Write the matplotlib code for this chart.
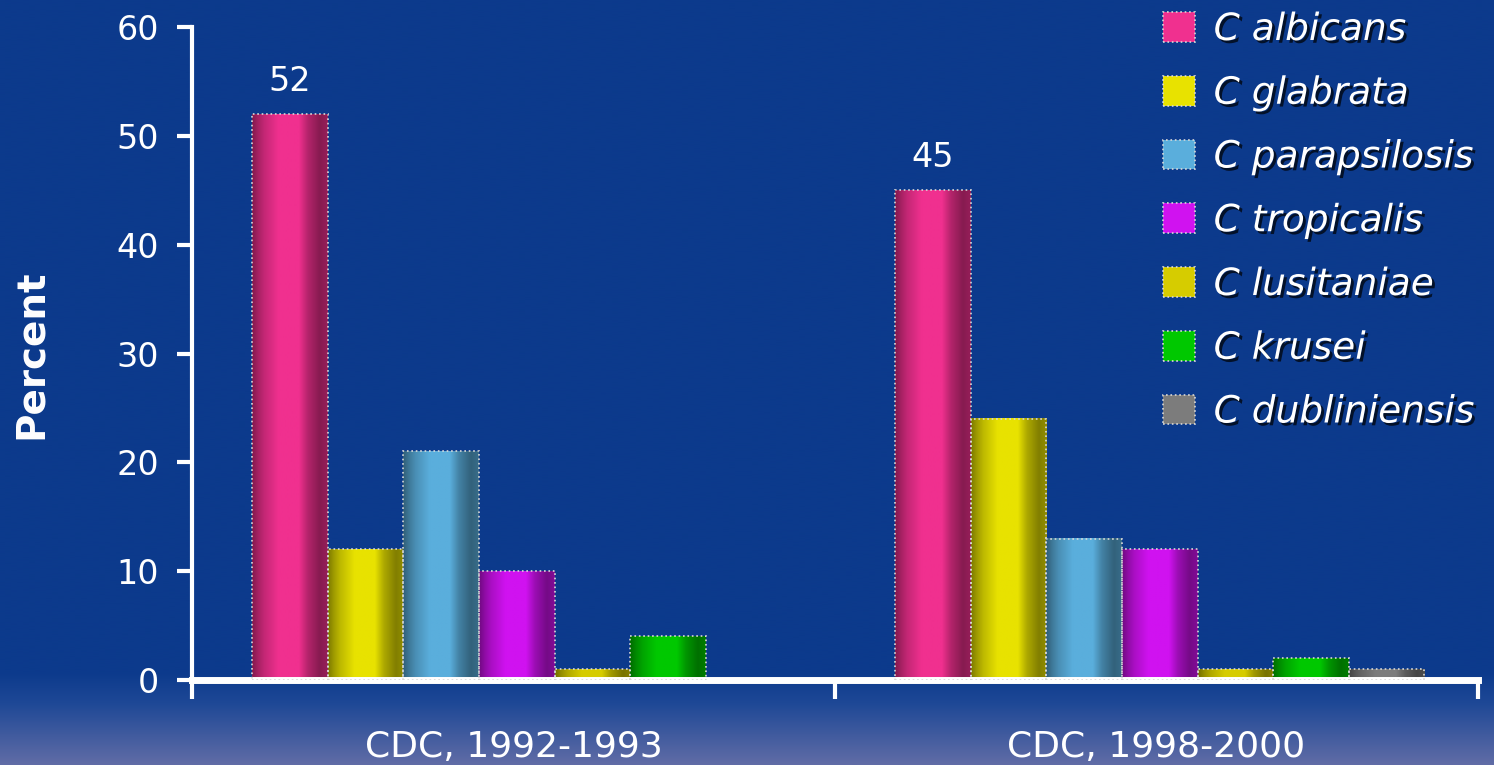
import numpy as np
import matplotlib.pyplot as plt
import matplotlib.patheffects as pe
from matplotlib.patches import Patch
from matplotlib.colors import to_rgb

# survey periods and species
studies = ['CDC, 1992-1993', 'CDC, 1998-2000']
species = ['C albicans', 'C glabrata', 'C parapsilosis', 'C tropicalis',
           'C lusitaniae', 'C krusei', 'C dubliniensis']

# percent of isolates per species, one list per period
percent_1992 = [52, 12, 21, 10, 1, 4, 0]
percent_1998 = [45, 24, 13, 12, 1, 2, 1]

colors = ['#f0308f', '#e8e200', '#5aaedc', '#d012f0', '#d6cc00', '#00c800', '#7c7c7c']

fig = plt.figure(figsize=(14.94, 7.65), dpi=100)

# background: flat blue that fades to a greyish lilac at the bottom
bg = fig.add_axes([0, 0, 1, 1], zorder=-10)
bg.axis('off')
rows = np.linspace(0, 1, 400)
stops = [0.0, 0.88, 0.92, 1.0]
top_c = np.array([
    [0x0c, 0x3a, 0x8c],
    [0x0c, 0x3a, 0x8c],
    [0x1e, 0x48, 0x96],
    [0x60, 0x6c, 0xa6],
]) / 255
grad = np.stack([np.interp(rows, stops, top_c[:, k]) for k in range(3)], axis=-1)
bg.imshow(grad[:, None, :], aspect='auto', extent=[0, 1, 0, 1], interpolation='bilinear')
bg.set_xlim(0, 1)
bg.set_ylim(0, 1)

ax = fig.add_axes([0.1285, 0.1111, 0.8608, 0.8536])
ax.set_facecolor('none')

x = np.arange(len(studies))
width = 0.1176
shift = 0.005
shade_pos = [0, 0.08, 0.16, 0.35, 0.62, 0.74, 0.9, 1]
shade_val = [0.55, 0.7, 0.82, 1.0, 1.0, 0.75, 0.56, 0.62]
prof = np.interp(np.linspace(0, 1, 64), shade_pos, shade_val)

for i, sp in enumerate(species):
    vals = [percent_1992[i], percent_1998[i]]
    bars = ax.bar(x + (i - 3) * width + shift, vals, width, facecolor='none',
                  edgecolor='#d8d8d8', linewidth=1.2, linestyle=':', zorder=3)
    rgb = np.array(to_rgb(colors[i]))
    img = np.clip(rgb[None, None, :] * prof[None, :, None], 0, 1)
    for b in bars:
        if b.get_height() > 0:
            x0 = b.get_x()
            ax.imshow(img, extent=[x0, x0 + b.get_width(), 0, b.get_height()],
                      aspect='auto', interpolation='bilinear', zorder=2)
        else:
            b.set_visible(False)

# value labels over the C albicans bars
for xi, v in zip(x, [percent_1992[0], percent_1998[0]]):
    ax.text(xi - 3 * width + shift, v + 1.5, str(v), ha='center', va='bottom',
            color='white', fontsize=24)

ax.set_xlim(-0.5, 1.5)
ax.set_ylim(0, 60)

for s in ['top', 'right']:
    ax.spines[s].set_visible(False)
ax.spines['left'].set_color('white')
ax.spines['left'].set_linewidth(3)
ax.spines['bottom'].set_color('white')
ax.spines['bottom'].set_linewidth(5)

ax.set_yticks(range(0, 61, 10))
ax.tick_params(axis='y', colors='white', labelsize=24, length=11, width=3, pad=13)

# category boundaries as major ticks, names on minor ticks
ax.set_xticks([-0.5, 0.5, 1.5])
ax.set_xticklabels([])
ax.set_xticks(x, minor=True)
ax.set_xticklabels(studies, minor=True)
ax.tick_params(axis='x', which='major', colors='white', length=14, width=3)
ax.tick_params(axis='x', which='minor', length=0, pad=36, labelsize=26, labelcolor='white')

fig.text(0.021, 0.537, 'Percent', rotation=90, ha='center', va='center',
         color='white', fontsize=28, fontweight='bold')

shadow = [pe.withSimplePatchShadow(offset=(2, -2), shadow_rgbFace='black', alpha=0.7)]
handles = [Patch(facecolor=c, edgecolor='#d8d8d8', linestyle=':', linewidth=1.2)
           for c in colors]
leg = fig.legend(handles, species, loc='upper left',
                 bbox_to_anchor=(1163 / 1494, 1 - 12 / 765),
                 frameon=False, fontsize=27, handlelength=0.85, handleheight=0.85,
                 handletextpad=0.5, labelspacing=0.74, borderpad=0, borderaxespad=0)
for t in leg.get_texts():
    t.set_color('white')
    t.set_fontstyle('italic')
    t.set_path_effects(shadow)

fig.savefig('out.png', dpi=100)
